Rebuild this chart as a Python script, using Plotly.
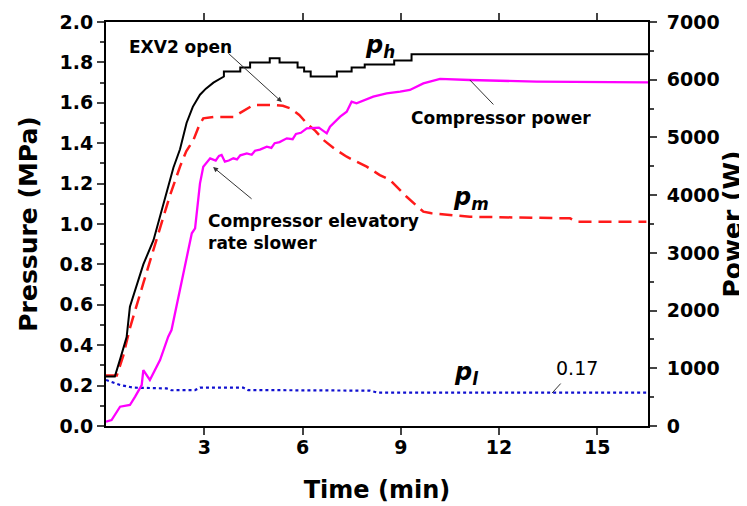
import plotly.graph_objects as go

# ---- data ----
t_ph = [0, 0.27, 0.43, 0.63, 0.73, 0.83, 1.14, 1.45, 1.85, 2.06, 2.26, 2.46, 2.65, 2.87, 3.05, 3.28, 3.6, 3.6,
        4.1, 4.1, 4.4, 4.4, 5.0, 5.0, 5.3, 5.3, 5.85, 5.85, 6.05, 6.05, 6.25, 6.25, 7.05, 7.05, 7.5, 7.5, 7.9,
        7.9, 8.8, 8.8, 9.33, 9.33, 16.55]
p_h = [0.245, 0.245, 0.33, 0.44, 0.59, 0.64, 0.80, 0.92, 1.15, 1.28, 1.37, 1.50, 1.58, 1.64, 1.67, 1.70, 1.73,
       1.755, 1.755, 1.775, 1.775, 1.80, 1.80, 1.82, 1.82, 1.80, 1.80, 1.775, 1.775, 1.755, 1.755, 1.73, 1.73,
       1.755, 1.755, 1.775, 1.775, 1.79, 1.79, 1.81, 1.81, 1.84, 1.84]

t_pm = [0, 0.33, 0.53, 0.73, 1.14, 1.4, 1.65, 1.95, 2.26, 2.45, 2.67, 2.85, 2.97, 3.3, 3.89, 4.2, 4.5, 5.1,
        5.4, 5.62, 5.9, 6.13, 6.4, 6.64, 7.0, 7.35, 7.96, 8.36, 8.67, 9.18, 9.69, 9.94, 11.11, 14.17, 14.37,
        16.5]
p_m = [0.25, 0.25, 0.35, 0.485, 0.707, 0.85, 0.986, 1.14, 1.284, 1.36, 1.416, 1.49, 1.523, 1.53, 1.53, 1.56,
       1.589, 1.589, 1.585, 1.573, 1.54, 1.498, 1.46, 1.416, 1.37, 1.333, 1.284, 1.242, 1.218, 1.135, 1.061,
       1.053, 1.036, 1.028, 1.011, 1.011]

t_pw = [0, 0.17, 0.43, 0.73, 0.89, 1.09, 1.14, 1.34, 1.65, 1.9, 2.0, 2.26, 2.51, 2.62, 2.72, 2.87, 2.97,
        3.18, 3.35, 3.45, 3.53, 3.63, 3.75, 3.89, 4.0, 4.1, 4.3, 4.45, 4.55, 4.7, 4.91, 5.05, 5.15, 5.3, 5.52,
        5.7, 5.8, 5.95, 6.13, 6.5, 6.74, 6.84, 7.15, 7.35, 7.5, 7.65, 8.16, 8.57, 8.98, 9.28, 9.69, 10.2,
        11.1, 13.15, 16.55]
power = [75, 104, 334, 364, 508, 710, 970, 797, 1143, 1547, 1663, 2356, 3050, 3339, 3425, 4205, 4493,
         4638, 4600, 4680, 4696, 4580, 4600, 4638, 4620, 4690, 4724, 4700, 4770, 4790, 4840, 4820, 4900, 4920,
         4984, 4970, 5060, 5080, 5157, 5170, 5071, 5186, 5359, 5446, 5619, 5590, 5706, 5764, 5793, 5822, 5937,
         6013, 5995, 5966, 5955]

t_pl = [0, 0.43, 0.83, 1.85, 2.0, 2.72, 2.87, 4.19, 4.34, 8.06, 8.3, 16.55]
p_l = [0.228, 0.203, 0.19, 0.186, 0.177, 0.178, 0.19, 0.19, 0.178, 0.175, 0.165, 0.165]

x_ticks = [3, 6, 9, 12, 15]
y_ticks = [0.0, 0.2, 0.4, 0.6, 0.8, 1.0, 1.2, 1.4, 1.6, 1.8, 2.0]
y2_ticks = [0, 1000, 2000, 3000, 4000, 5000, 6000, 7000]

FONT = "DejaVu Sans"

fig = go.Figure()
fig.add_trace(go.Scatter(x=t_pw, y=power, mode="lines", yaxis="y2",
                         line=dict(color="#FF00FF", width=2.3), showlegend=False))
fig.add_trace(go.Scatter(x=t_pm, y=p_m, mode="lines",
                         line=dict(color="#FF1A1A", width=2.5, dash="13px,7px"), showlegend=False))
fig.add_trace(go.Scatter(x=t_ph, y=p_h, mode="lines",
                         line=dict(color="black", width=2), showlegend=False))
fig.add_trace(go.Scatter(x=t_pl, y=p_l, mode="lines",
                         line=dict(color="#1010D0", width=2.2, dash="dot"), showlegend=False))

bold = dict(family=FONT, size=17, color="black", weight="bold")
ann = []
ann.append(dict(x=2.26, y=1.876, text="EXV2 open", showarrow=False, font=bold))
ann.append(dict(x=5.37, y=1.604, ax=-55, ay=-50, text="", showarrow=True, arrowhead=2,
                arrowsize=1, arrowwidth=1, arrowcolor="#333333"))
ann.append(dict(x=3.05, y=0.96, text="Compressor elevatory<br>rate slower", showarrow=False,
                xanchor="left", align="left", font=bold))
ann.append(dict(x=3.27, y=1.282, ax=40, ay=33, text="", showarrow=True, arrowhead=2,
                arrowsize=1, arrowwidth=1, arrowcolor="#333333"))
ann.append(dict(x=12.06, y=1.525, text="Compressor power", showarrow=False, font=bold))
ann.append(dict(x=11.11, y=1.713, ax=25, ay=26, text="", showarrow=True, arrowhead=0,
                arrowwidth=1, arrowcolor="#333333"))
ann.append(dict(x=13.62, y=0.163, ax=10, ay=-11, text="", showarrow=True, arrowhead=0,
                arrowwidth=1, arrowcolor="#333333"))
ann.append(dict(x=14.38, y=0.287, text="0.17", showarrow=False,
                font=dict(family=FONT, size=19, color="black")))
big = dict(family=FONT, size=24, color="black", weight="bold")
ann.append(dict(x=8.37, y=1.88, text="<i>p</i><sub><i>h</i></sub>", showarrow=False, font=big))
ann.append(dict(x=11.15, y=1.125, text="<i>p</i><sub><i>m</i></sub>", showarrow=False, font=big))
ann.append(dict(x=10.99, y=0.26, text="<i>p</i><sub><i>l</i></sub>", showarrow=False, font=big))
for a in ann:
    a["xref"] = "x"
    a["yref"] = "y"

tickfont = dict(family=FONT, size=19, color="black", weight="bold")
# page body has an 8px default margin, so the figure is sized 739x498 with offsets compensated
fig.update_layout(
    width=739, height=498,
    margin=dict(l=98, r=99, t=14, b=80),
    plot_bgcolor="white", paper_bgcolor="white",
    annotations=ann,
    xaxis=dict(range=[0, 16.55], tickvals=x_ticks, ticks="outside", ticklen=7, tickwidth=2,
               showline=True, linewidth=2, linecolor="black", mirror="ticks", showgrid=False,
               zeroline=False, tickfont=tickfont, automargin=False, ticklabelstandoff=-4,
               title=dict(text="Time (min)", font=dict(family=FONT, size=24, color="black", weight="bold"),
                          standoff=24)),
    yaxis=dict(range=[0, 2.0], tickvals=y_ticks, tickformat=".1f", ticks="outside", ticklen=7, tickwidth=2,
               showline=True, linewidth=2, linecolor="black", showgrid=False, zeroline=False,
               tickfont=tickfont, automargin=False,
               minor=dict(ticks="outside", ticklen=4, tickwidth=1.5, dtick=0.1, showgrid=False),
               title=dict(text="Pressure (MPa)", font=dict(family=FONT, size=25, color="black", weight="bold"),
                          standoff=15)),
    yaxis2=dict(range=[0, 7000], tickvals=y2_ticks, overlaying="y", side="right", ticks="outside",
                ticklen=7, tickwidth=2, showline=True, linewidth=2, linecolor="black", showgrid=False,
                zeroline=False, tickfont=tickfont, automargin=False, ticklabelstandoff=6,
                minor=dict(ticks="outside", ticklen=4, tickwidth=1.5, dtick=500, showgrid=False),
                title=dict(text="Power (W)", font=dict(family=FONT, size=25, color="black", weight="bold"),
                           standoff=4)),
)

fig.write_html("out.html")
